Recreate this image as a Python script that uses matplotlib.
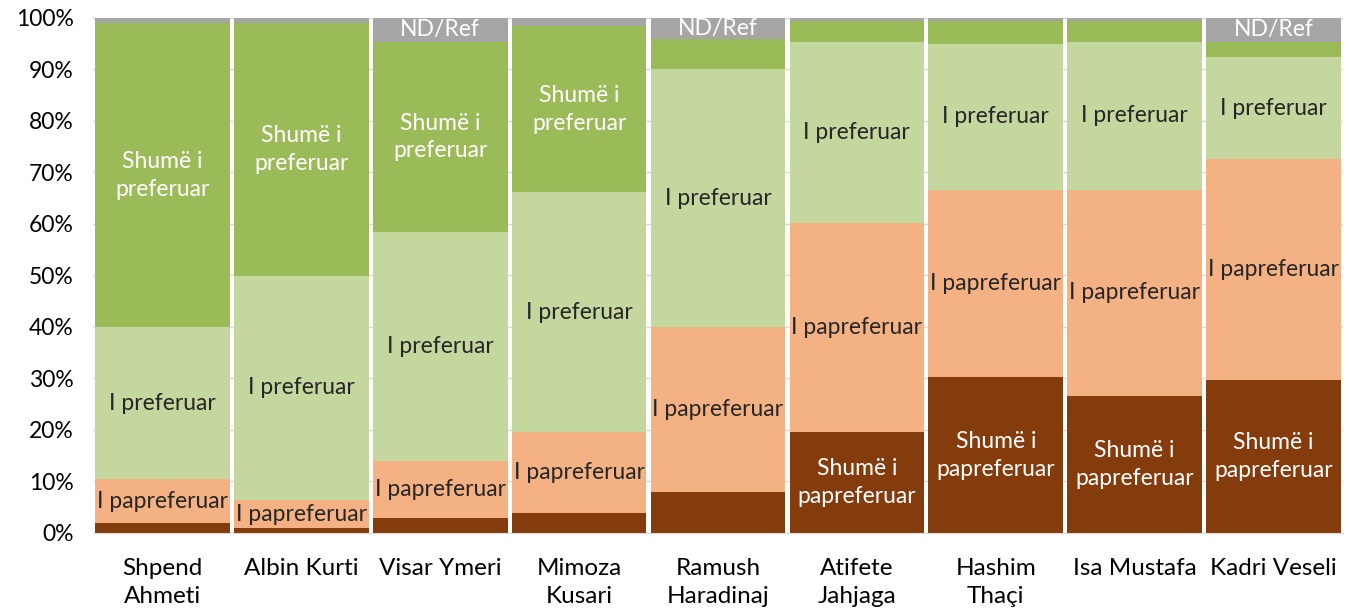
import matplotlib
matplotlib.use("Agg")
import matplotlib.pyplot as plt
import numpy as np

candidates = ["Shpend\nAhmeti", "Albin Kurti", "Visar Ymeri", "Mimoza\nKusari",
              "Ramush\nHaradinaj", "Atifete\nJahjaga", "Hashim\nThaçi",
              "Isa Mustafa", "Kadri Veseli"]

# Share of respondents (%) per rating, stacked from bottom to top
shume_papreferuar = [1.9, 0.9, 2.9, 3.9, 8.0, 19.6, 30.2, 26.6, 29.7]
papreferuar       = [8.6, 5.5, 11.1, 15.7, 31.9, 40.5, 36.4, 40.0, 42.9]
preferuar         = [29.4, 43.5, 44.4, 46.6, 50.1, 35.3, 28.4, 28.8, 19.8]
shume_preferuar   = [59.1, 49.1, 37.0, 32.2, 5.9, 4.0, 4.4, 4.0, 3.0]
nd_ref            = [1.0, 1.0, 4.6, 1.6, 4.1, 0.6, 0.6, 0.6, 4.6]

series = [
    ("Shumë i\npapreferuar", shume_papreferuar, "#843C0C", "white", 10),
    ("I papreferuar", papreferuar, "#F4B183", "#262626", 0),
    ("I preferuar", preferuar, "#C4D79F", "#262626", 0),
    ("Shumë i\npreferuar", shume_preferuar, "#9BBB59", "white", 10),
    ("ND/Ref", nd_ref, "#A6A6A6", "white", 4),
]

plt.rcParams["font.family"] = ["Lato", "DejaVu Sans"]

fig = plt.figure(figsize=(13.52, 6.14), dpi=100)
ax = fig.add_axes([0.0688, 0.132, 0.9245, 0.8387])

x = np.arange(len(candidates))
bottom = np.zeros(len(candidates))
for label, vals, color, tcolor, min_show in series:
    vals = np.array(vals)
    ax.bar(x, vals, bottom=bottom, width=0.97, color=color, zorder=2)
    for xi, b, v in zip(x, bottom, vals):
        if v >= min_show:
            ax.text(xi, b + v / 2, label, ha="center", va="center",
                    color=tcolor, fontsize=16.5, linespacing=1.4, zorder=3)
    bottom += vals

ax.set_xlim(-0.5, len(candidates) - 0.5)
ax.set_ylim(0, 100)
ax.set_yticks(np.arange(0, 101, 10))
ax.set_yticklabels([f"{v}%" for v in range(0, 101, 10)], fontsize=16.5, color="black")
ax.set_xticks(x)
ax.set_xticklabels(candidates, fontsize=17.5, linespacing=1.4, color="black")
ax.tick_params(axis="both", length=0)
ax.tick_params(axis="x", pad=18)
ax.tick_params(axis="y", pad=14)

ax.grid(axis="y", color="#D9D9D9", linewidth=1, zorder=0)
ax.set_axisbelow(True)
for side in ["top", "right", "left"]:
    ax.spines[side].set_visible(False)
ax.spines["bottom"].set_color("#D9D9D9")

fig.savefig("out.png", dpi=100)
